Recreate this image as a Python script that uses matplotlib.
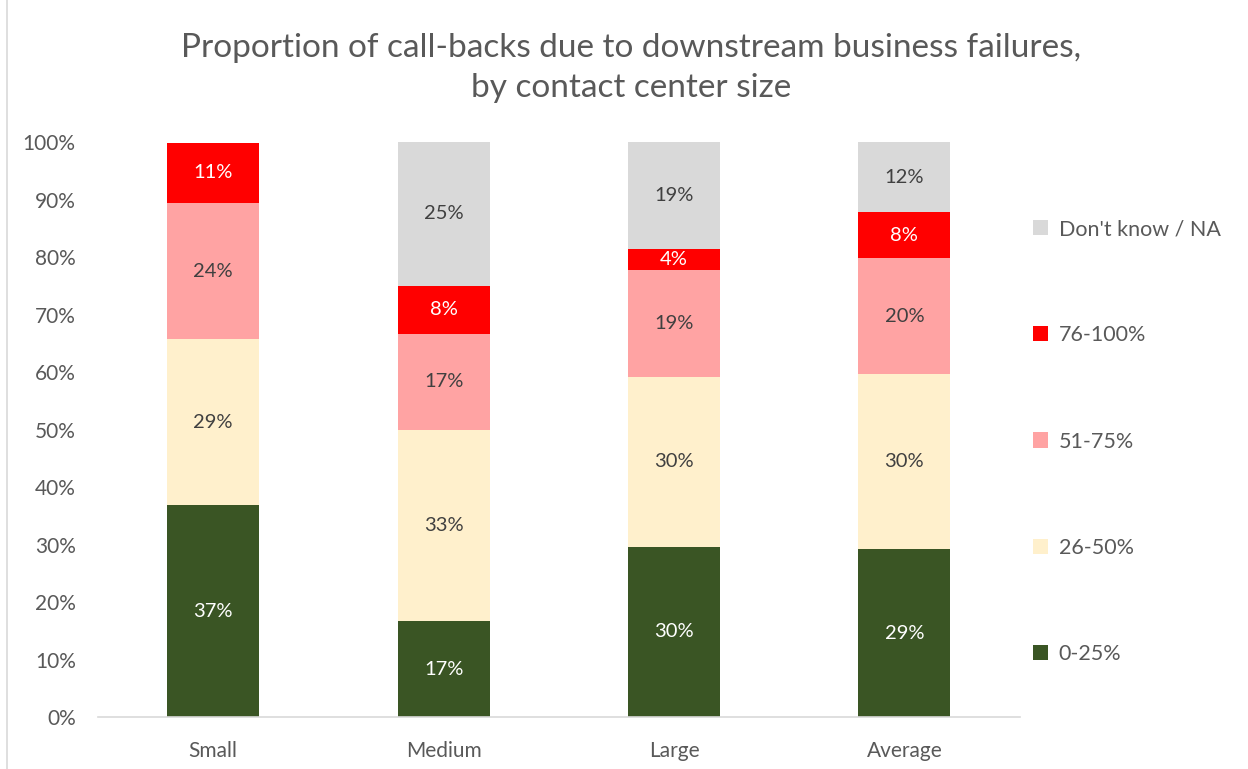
import matplotlib
matplotlib.use("Agg")
import matplotlib.pyplot as plt
from matplotlib.patches import Patch
from matplotlib.lines import Line2D

plt.rcParams["font.family"] = ["Lato", "DejaVu Sans"]

categories = ["Small", "Medium", "Large", "Average"]
series_names = ["0-25%", "26-50%", "51-75%", "76-100%", "Don't know / NA"]
p0_25 = [36.8, 16.7, 29.6, 29.2]
p26_50 = [28.9, 33.3, 29.6, 30.4]
p51_75 = [23.7, 16.7, 18.5, 20.2]
p76_100 = [10.5, 8.3, 3.7, 8.0]
dont_know = [0.0, 25.0, 18.6, 12.2]

colors = ["#3A5524", "#FFF0CC", "#FFA3A3", "#FF0000", "#D9D9D9"]
label_colors = ["white", "#404040", "#404040", "white", "#404040"]

fig = plt.figure(figsize=(12.48, 7.69), dpi=100)
ax = fig.add_axes([0.0785, 0.0676, 0.7385, 0.7477])

x = range(len(categories))
bottom = [0.0] * len(categories)
for name, vals, col, lcol in zip(series_names,
                                 [p0_25, p26_50, p51_75, p76_100, dont_know],
                                 colors, label_colors):
    ax.bar(x, vals, width=0.4, bottom=bottom, color=col, label=name)
    for i, v in enumerate(vals):
        if v > 0:
            # half-up rounding like Excel
            ax.text(i, bottom[i] + v / 2, f"{int(v + 0.5)}%", ha="center", va="center",
                    fontsize=14.5, color=lcol)
    bottom = [b + v for b, v in zip(bottom, vals)]

ax.set_xlim(-0.5, 3.5)
ax.set_ylim(0, 100)
ax.set_yticks(range(0, 101, 10))
ax.set_yticklabels([f"{t}%" for t in range(0, 101, 10)])
ax.set_xticks(list(x))
ax.set_xticklabels(categories)
ax.tick_params(axis="both", length=0, labelsize=15, colors="#595959")
ax.tick_params(axis="y", pad=16)
ax.tick_params(axis="x", pad=17)
for s in ["top", "right", "left"]:
    ax.spines[s].set_visible(False)
ax.spines["bottom"].set_color("#D9D9D9")
ax.spines["bottom"].set_linewidth(1.2)

fig.suptitle("Proportion of call-backs due to downstream business failures,\nby contact center size",
             x=0.506, y=0.957, fontsize=24, color="#595959", linespacing=1.4)

handles = [Patch(facecolor=c) for c in colors]
leg = fig.legend(handles[::-1], series_names[::-1], loc="upper left",
                 bbox_to_anchor=(0.812, 0.74), frameon=False, fontsize=15.5,
                 handlelength=0.7, handleheight=0.7, handletextpad=0.5,
                 labelspacing=4.0, labelcolor="#595959")

fig.add_artist(Line2D([0.006, 0.006], [0, 1], color="#D9D9D9", lw=1.2))

fig.savefig("out.png", dpi=100)
